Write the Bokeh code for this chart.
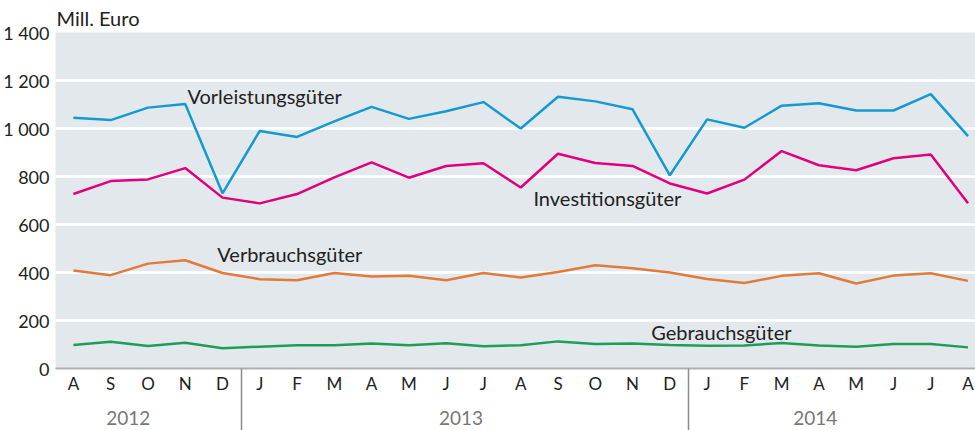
from bokeh.plotting import figure
from bokeh.models import Range1d, FixedTicker, LinearAxis
from bokeh.core.properties import value
from bokeh.embed import file_html
from bokeh.resources import INLINE

# ---- data ----
months = ["A", "S", "O", "N", "D",
          "J", "F", "M", "A", "M", "J", "J", "A", "S", "O", "N", "D",
          "J", "F", "M", "A", "M", "J", "J", "A"]
years = ["2012", "2013", "2014"]
vorleistung = [1045, 1035, 1087, 1102, 730, 990, 965, 1030, 1090, 1040, 1072, 1110,
               1000, 1132, 1113, 1080, 805, 1038, 1003, 1095, 1105, 1075, 1075, 1143, 968]
investition = [727, 781, 788, 835, 712, 688, 727, 796, 859, 795, 844, 855,
               754, 895, 856, 844, 771, 729, 787, 906, 847, 826, 876, 892, 689]
verbrauch = [408, 389, 437, 451, 398, 372, 368, 398, 383, 386, 368, 398,
             379, 402, 430, 418, 400, 373, 356, 386, 397, 354, 387, 397, 365]
gebrauch = [98, 111, 94, 107, 84, 91, 97, 97, 104, 97, 105, 93,
            97, 113, 102, 104, 98, 95, 96, 106, 96, 91, 102, 102, 88]
y_ticks = [0, 200, 400, 600, 800, 1000, 1200, 1400]
y_tick_labels = ["0", "200", "400", "600", "800", "1 000", "1 200", "1 400"]
series_names = ["Vorleistungsgüter", "Investitionsgüter", "Verbrauchsgüter", "Gebrauchsgüter"]

# ---- styling / placement ----
FONT = "Lato"
colors = ["#139bd0", "#e2007a", "#e07b3a", "#1c9e57"]
label_pos = [(3.06, 1137), (12.34, 712), (3.86, 479), (15.5, 154)]
year_pos = [1.47, 10.4, 19.9]
DIV_LEN = 62

x = list(range(len(months)))
boundaries = [i - 0.5 for i in range(1, len(months)) if months[i - 1] == "D"]

p = figure(width=975, height=430, output_backend="svg", toolbar_location=None,
           x_range=Range1d(-0.48, 24.2), y_range=Range1d(0, 1400),
           min_border_left=55, min_border_right=0, min_border_top=32,
           min_border_bottom=62)
p.background_fill_color = "#e3e8ec"
p.border_fill_color = "white"
p.outline_line_color = None

# title as unit label
p.title.text = "Mill. Euro"
p.title.text_font = FONT
p.title.text_font_size = "20px"
p.title.text_font_style = "normal"
p.title.text_color = "#222222"
p.title.align = "left"
p.title.offset = 1
p.title.standoff = 6

# grid
p.xgrid.grid_line_color = None
p.ygrid.ticker = FixedTicker(ticks=y_ticks)
p.ygrid.grid_line_color = "white"
p.ygrid.grid_line_width = 2.5

# y axis
ya = p.yaxis[0]
ya.ticker = FixedTicker(ticks=y_ticks)
ya.major_label_overrides = {t: l for t, l in zip(y_ticks, y_tick_labels)}
ya.axis_line_color = None
ya.major_tick_line_color = None
ya.minor_tick_line_color = None
ya.major_label_standoff = 0
ya.major_label_text_font = FONT
ya.major_label_text_font_size = "18px"
ya.major_label_text_color = "#222222"

# month axis (minor ticks draw the year dividers)
xa = p.xaxis[0]
xa.ticker = FixedTicker(ticks=x, minor_ticks=boundaries)
xa.major_label_overrides = {i: m for i, m in zip(x, months)}
xa.axis_line_color = "#b0b0b0"
xa.axis_line_width = 2
xa.major_tick_line_color = None
xa.major_tick_out = 0
xa.major_tick_in = 0
xa.minor_tick_line_color = "#8c8c8c"
xa.minor_tick_line_width = 1.5
xa.minor_tick_out = DIV_LEN
xa.minor_tick_in = 0
xa.major_label_standoff = 4 - DIV_LEN
xa.major_label_text_font = FONT
xa.major_label_text_font_size = "17px"
xa.major_label_text_color = "#222222"

# year axis
ya2 = LinearAxis(ticker=FixedTicker(ticks=year_pos))
ya2.major_label_overrides = {pos: yr for pos, yr in zip(year_pos, years)}
ya2.axis_line_color = None
ya2.major_tick_line_color = None
ya2.minor_tick_line_color = None
ya2.major_label_standoff = 8
ya2.major_label_text_font = FONT
ya2.major_label_text_font_size = "19px"
ya2.major_label_text_color = "#777777"
p.add_layout(ya2, "below")

# lines
for ys, c in zip([vorleistung, investition, verbrauch, gebrauch], colors):
    p.line(x, ys, line_color=c, line_width=2.5)

p.text(x=[lp[0] for lp in label_pos], y=[lp[1] for lp in label_pos], text=series_names,
       text_font=value(FONT), text_font_size="20px", text_color="#222222",
       text_baseline="middle", text_align="left")

open("out.html", "w").write(file_html(p, INLINE))
